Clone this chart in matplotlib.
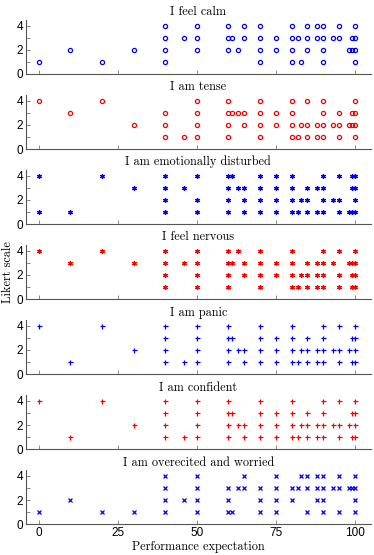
import matplotlib
matplotlib.use("Agg")
import matplotlib.pyplot as plt

# x positions (performance expectation) for each Likert level 1..4
titles = ["I feel calm", "I am tense", "I am emotionally disturbed",
          "I feel nervous", "I am panic", "I am confident",
          "I am overecited and worried"]

calm = [[0, 20, 40, 70, 80, 83, 90, 100],
        [10, 30, 40, 50, 60, 63, 70, 75, 80, 85, 90, 98, 99, 100],
        [40, 46, 50, 60, 61, 65, 70, 75, 80, 82, 85, 88, 90, 93, 95, 99, 100],
        [40, 50, 60, 65, 70, 80, 85, 88, 90, 95, 100]]
tense = [[40, 46, 50, 60, 70, 80, 82, 85, 88, 90, 95, 100],
         [30, 40, 50, 60, 65, 70, 75, 80, 83, 85, 88, 90, 93, 95, 98, 99, 100],
         [10, 40, 50, 60, 61, 63, 65, 70, 75, 80, 90, 95, 99, 100],
         [0, 20, 50, 60, 70, 80, 85, 90, 100]]
disturbed = [[0, 10, 40, 50, 60, 65, 70, 75, 80, 82, 85, 88, 90, 95, 98, 99, 100],
             [40, 50, 60, 65, 70, 75, 80, 83, 85, 90, 93, 95, 100],
             [30, 40, 46, 60, 63, 65, 70, 75, 80, 85, 88, 90, 99, 100],
             [0, 20, 40, 50, 60, 61, 70, 75, 80, 90, 95, 99, 100]]
nervous = [[40, 50, 60, 70, 80, 82, 85, 88, 90, 95, 99, 100],
           [40, 50, 60, 65, 70, 75, 80, 83, 85, 88, 90, 95, 99, 100],
           [10, 30, 40, 46, 50, 60, 61, 65, 70, 75, 80, 85, 88, 90, 93, 98, 99, 100],
           [0, 20, 40, 50, 60, 63, 70, 80, 90, 95, 100]]
panic = [[10, 40, 46, 50, 60, 65, 70, 75, 80, 82, 85, 88, 90, 95, 99, 100],
         [30, 40, 50, 60, 63, 65, 70, 75, 80, 83, 85, 88, 90, 93, 95, 98, 100],
         [40, 50, 60, 61, 70, 75, 80, 85, 90, 99, 100],
         [0, 20, 40, 50, 60, 70, 80, 90, 95, 100]]
confident = [[10, 40, 46, 50, 60, 65, 70, 75, 80, 82, 85, 88, 90, 95, 99, 100],
             [30, 40, 50, 60, 63, 65, 70, 75, 80, 83, 85, 88, 90, 93, 95, 98, 100],
             [40, 50, 60, 61, 70, 75, 80, 85, 90, 99, 100],
             [0, 20, 40, 50, 60, 70, 80, 90, 95, 100]]
worried = [[0, 20, 30, 40, 50, 60, 61, 70, 75, 85, 90, 95, 100],
           [10, 40, 46, 50, 60, 70, 75, 80, 88, 90, 100],
           [40, 50, 60, 63, 65, 70, 75, 80, 82, 85, 88, 90, 93, 95, 98, 99, 100],
           [40, 50, 65, 75, 83, 85, 88, 90, 95, 100]]

panels = [calm, tense, disturbed, nervous, panic, confident, worried]
markers = ["o", "o", (6, 2, 0), (6, 2, 0), "+", "+", "x"]
msizes = [3.0, 3.0, 3.4, 3.4, 3.6, 3.6, 2.7]
colors = ["b", "r", "b", "r", "b", "r", "b"]

fig = plt.figure(figsize=(3.74, 5.55), dpi=100)

left = 26 / 374
width = (370.7 - 26) / 374
ax_h = 54.5 / 555

for i, (levels, m, ms, c, t) in enumerate(zip(panels, markers, msizes, colors, titles)):
    bottom_px = 74 + i * 75.05
    ax = fig.add_axes([left, 1 - bottom_px / 555, width, ax_h])
    for lvl, xs in enumerate(levels, start=1):
        ys = [lvl] * len(xs)
        if m == "o":
            ax.plot(xs, ys, linestyle="none", marker="o", markersize=ms,
                    markerfacecolor="none", markeredgecolor=c, markeredgewidth=0.9)
        else:
            ax.plot(xs, ys, linestyle="none", marker=m, markersize=ms,
                    color=c, markeredgewidth=0.9)
    ax.set_xlim(-4, 105)
    ax.set_ylim(0, 4.5)
    ax.set_yticks([0, 1, 2, 3, 4])
    ax.set_yticklabels(["0", "", "2", "", "4"])
    ax.set_xticks([0, 25, 50, 75, 100])
    if i < 6:
        ax.set_xticklabels([])
    ax.spines["top"].set_visible(False)
    ax.spines["right"].set_visible(False)
    for s in ("left", "bottom"):
        ax.spines[s].set_color("#555555")
        ax.spines[s].set_linewidth(0.8)
    ax.tick_params(direction="in", length=3, width=0.6, color="#777777",
                   labelsize=8.5, pad=2)
    for lab in ax.get_xticklabels() + ax.get_yticklabels():
        lab.set_fontfamily("Liberation Sans")
    ax.set_title(t, fontfamily="cmr10", fontsize=8.8, pad=3)
    if i == 3:
        ax.set_ylabel("Likert scale", fontfamily="cmr10", fontsize=8.8, labelpad=2)
    if i == 6:
        ax.set_xlabel("Performance expectation", fontfamily="cmr10", fontsize=8.8,
                      labelpad=1)

fig.savefig("out.png", dpi=100)
